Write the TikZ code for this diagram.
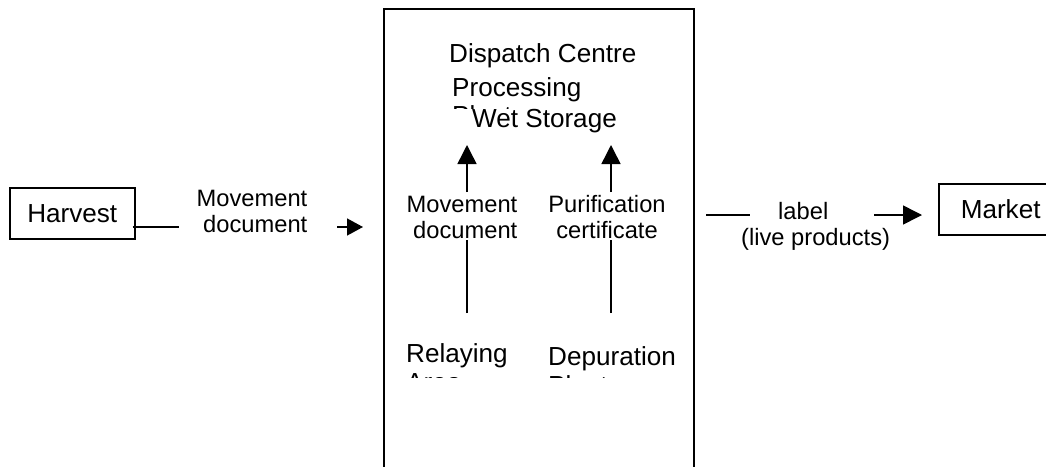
\documentclass[tikz,border=0pt]{standalone}
\usepackage{fontspec}
\setmainfont{Liberation Sans}
\usetikzlibrary{arrows.meta,calc}
\begin{document}
\begin{tikzpicture}[x=1pt,y=-1pt,
  frame/.style={draw,line width=1.5pt},
  bigtext/.style={font=\fontsize{26.1}{29}\selectfont,inner sep=0pt},
  smalltext/.style={font=\fontsize{23.7}{25.5}\selectfont,inner sep=0pt},
  link/.style={line width=1.5pt},
  flow/.style={line width=1.5pt,-{Triangle[length=19pt,width=19pt]}},
  flowsmall/.style={line width=1.5pt,-{Triangle[length=16pt,width=17pt]}}]
\useasboundingbox (0,0) rectangle (1046,466);

% central site outline (runs off the bottom)
\node[frame,line width=2pt,anchor=north west,minimum width=310pt,minimum height=480pt] (site) at (383,8) {};

% end points of the chain
\node[frame,bigtext,anchor=north west,minimum width=125pt,minimum height=51pt] (harvest) at (9,187) {Harvest};
\node[frame,bigtext,anchor=north west,inner xsep=22pt,minimum height=51pt] (market) at (938,183) {Market};

% stations inside the site
\node[bigtext,anchor=base west] (dispatch) at (449,62) {Dispatch Centre};
\node[bigtext,anchor=base west] (processing) at (452,96) {Processing};
\node[bigtext,anchor=base west] (plant) at (452,124) {Plant};
\node[bigtext,anchor=base west,fill=white,inner xsep=22pt,xshift=-22pt] (wet) at (472,127) {Wet Storage};

\begin{scope}
  \clip (380,0) rectangle (700,377);
  \node[bigtext,anchor=base west,align=left] (relaying) at (406,391) {Relaying\\Area};
  \node[bigtext,anchor=base west,align=left] (depuration) at (548,394) {Depuration\\Plant};
\end{scope}

% documents travelling with the product
\node[smalltext,anchor=base east,align=right] (movein) at (307.5,232) {Movement\\document};
\node[smalltext,anchor=base east,align=right] (movemid) at (517.5,238) {Movement\\document};
\node[smalltext,anchor=base,align=center] (purif) at (607,238) {Purification\\certificate};
\node[smalltext,anchor=base west,align=left] (label) at (741,245) {\hspace*{37pt}label\\(live products)};

% harvest to site
\coordinate (h1) at (179,227);
\coordinate (h0) at ($(harvest.east |- h1)+(-3,0)$);
\coordinate (h2) at (337,227);
\coordinate (h3) at (363,227);
\draw[link] (h0) -- (h1);
\draw[flowsmall] (h2) -- (h3);

% relaying area to wet storage
\coordinate (ra) at (467,313);
\coordinate (rb) at (467,240);
\coordinate (rc) at (467,192);
\coordinate (rd) at (467,145);
\draw[link] (ra) -- (rb);
\draw[flow] (rc) -- (rd);

% depuration plant to wet storage
\coordinate (da) at (611,313);
\coordinate (db) at (611,240);
\coordinate (dc) at (611,192);
\coordinate (dd) at (611,145);
\draw[link] (da) -- (db);
\draw[flow] (dc) -- (dd);

% site to market
\coordinate (m0) at (706,215);
\coordinate (m1) at (750,215);
\coordinate (m2) at (874,215);
\coordinate (m3) at (922,215);
\draw[link] (m0) -- (m1);
\draw[flow] (m2) -- (m3);
\end{tikzpicture}
\end{document}
